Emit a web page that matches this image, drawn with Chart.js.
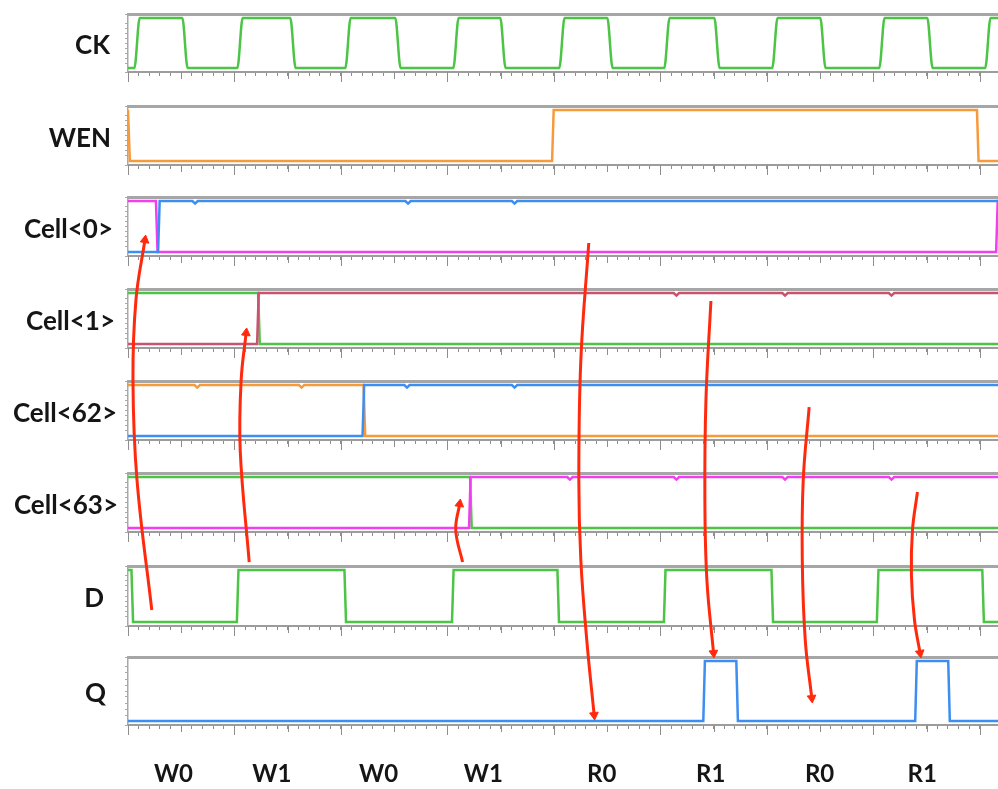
<!DOCTYPE html>
<html>
<head>
<meta charset="utf-8">
<script src="https://cdn.jsdelivr.net/npm/chart.js@4.4.1/dist/chart.umd.min.js"></script>
<style>
  html, body { margin: 0; padding: 0; background: #fff; }
  #wrap { position: relative; width: 998px; height: 789px; overflow: hidden; }
  .lbl { position: absolute; font: bold 26px Lato, 'Open Sans', sans-serif; color: #151515;
         white-space: nowrap; transform: translateY(-50%); line-height: 1; }
  .op  { position: absolute; font: bold 24px Lato, 'Open Sans', sans-serif; color: #151515;
         white-space: nowrap; transform: translate(-50%, -50%); line-height: 1; }
  canvas { position: absolute; left: 0; }
</style>
</head>
<body>
<div id="wrap"></div>
<script>
// ── Data (time in clock-period units, levels 0/1) ─────────
const xMax = 8.17;

const rowLabels  = ['CK', 'WEN', 'Cell<0>', 'Cell<1>', 'Cell<62>', 'Cell<63>', 'D', 'Q'];
const opLabels   = ['W0', 'W1', 'W0', 'W1', 'R0', 'R1', 'R0', 'R1'];
const opLabelPos = [0.43, 1.36, 2.37, 3.36, 4.48, 5.51, 6.54, 7.51];

const ckEdges  = [0.085, 0.535, 1.052, 1.549, 2.066, 2.535, 3.080, 3.521, 4.075,
                  4.526, 5.061, 5.531, 6.075, 6.526, 7.080, 7.531, 8.075];
const wenEdges = [0.01, 3.99, 7.98];

const cell0MagentaEdges = [0.27, 8.16];
const cell0BlueEdges    = [0.29];
const cell0BlueGlitches = [0.63, 2.63, 3.63];

const cell1GreenEdges    = [1.23];
const cell1RoseEdges     = [1.22];
const cell1RoseGlitches  = [5.15, 6.17, 7.17];

const cell62OrangeEdges    = [2.22];
const cell62OrangeGlitches = [0.65, 1.63];
const cell62BlueEdges      = [2.21];
const cell62BlueGlitches   = [2.62, 3.63];

const cell63GreenEdges      = [3.22];
const cell63MagentaEdges    = [3.21];
const cell63MagentaGlitches = [4.15, 5.15, 6.17, 7.17];

const dEdges = [0.04, 1.03, 2.04, 3.05, 4.04, 5.04, 6.05, 7.04, 8.03];
const qEdges = [5.41, 5.72, 7.40, 7.71];

// arrows: [time, row position] (row 0 = top of CK panel, 1 row = one panel pitch)
const arrowW0  = [[0.225, 6.478], [0.085, 5.065], [0.047, 3.978], [0.075, 3.109], [0.160, 2.457]];
const arrowW1a = [[1.146, 5.957], [1.061, 4.739], [1.070, 3.978], [1.117, 3.467]];
const arrowW1b = [[3.164, 5.957], [3.099, 5.609], [3.136, 5.326]];
const arrowR0a = [[4.357, 2.489], [4.282, 3.761], [4.263, 5.065], [4.282, 5.935], [4.338, 6.804], [4.408, 7.620]];
const arrowR1a = [[5.512, 3.120], [5.465, 4.196], [5.455, 5.283], [5.474, 6.152], [5.537, 6.946]];
const arrowR0b = [[6.441, 4.272], [6.385, 5.065], [6.376, 5.935], [6.404, 6.804], [6.466, 7.435]];
const arrowR1b = [[7.465, 5.196], [7.418, 5.609], [7.408, 6.098], [7.437, 6.587], [7.490, 6.946]];

// ── Colours ───────────────────────────────────────────────
const COLORS = {
  green:   '#4cc445',
  orange:  '#f79a3c',
  blue:    '#3d8ef2',
  magenta: '#f23ef0',
  rose:    '#c9526f',
  red:     '#ff2a0e',
  frame:   '#a6a6a6',
  tick:    '#8e8e8e',
};

// ── Layout ────────────────────────────────────────────────
const panelTop    = [14, 106, 197, 289, 381, 473, 566, 657];
const panelHeight = [58, 59, 59, 59, 59, 59, 60, 68];
const labelRight  = [110, 111, 113, 115, 117, 118, 104, 106];
const rowPitch    = 92;
const opLabelY    = 773;

const rows = [
  [{ color: COLORS.green,   start: 0, edges: ckEdges, smooth: true }],
  [{ color: COLORS.orange,  start: 1, edges: wenEdges }],
  [{ color: COLORS.blue,    start: 0, edges: cell0BlueEdges, glitches: cell0BlueGlitches },
   { color: COLORS.magenta, start: 1, edges: cell0MagentaEdges }],
  [{ color: COLORS.rose,    start: 0, edges: cell1RoseEdges, glitches: cell1RoseGlitches },
   { color: COLORS.green,   start: 1, edges: cell1GreenEdges }],
  [{ color: COLORS.blue,    start: 0, edges: cell62BlueEdges, glitches: cell62BlueGlitches },
   { color: COLORS.orange,  start: 1, edges: cell62OrangeEdges, glitches: cell62OrangeGlitches }],
  [{ color: COLORS.magenta, start: 0, edges: cell63MagentaEdges, glitches: cell63MagentaGlitches },
   { color: COLORS.green,   start: 1, edges: cell63GreenEdges }],
  [{ color: COLORS.green,   start: 1, edges: dEdges }],
  [{ color: COLORS.blue,    start: 0, edges: qEdges }],
];

const arrows = [arrowW0, arrowW1a, arrowW1b, arrowR0a, arrowR1a, arrowR0b, arrowR1b];

// ── Helpers ───────────────────────────────────────────────
// step waveform from edge times (level toggles at each edge)
function stepPoints(start, edges, ramp, glitches) {
  const events = edges.map(t => ({ t, edge: true }))
    .concat((glitches || []).map(t => ({ t, edge: false })))
    .sort((a, b) => a.t - b.t);
  const pts = [{ x: 0, y: start }];
  let level = start;
  events.forEach(e => {
    if (e.edge) {
      pts.push({ x: Math.max(0, e.t - ramp / 2), y: level });
      level = 1 - level;
      pts.push({ x: e.t + ramp / 2, y: level });
    } else {
      const d = level ? -0.05 : 0.05;
      pts.push({ x: e.t - 0.025, y: level }, { x: e.t, y: level + d }, { x: e.t + 0.025, y: level });
    }
  });
  pts.push({ x: xMax + 0.1, y: level });
  return pts;
}

// longer tick marks on whole and half periods
const majorTicks = {
  id: 'majorTicks',
  afterDraw(chart) {
    const { ctx, chartArea, scales: { x } } = chart;
    ctx.save();
    ctx.strokeStyle = COLORS.tick;
    ctx.lineWidth = 1;
    for (let i = 0; i <= Math.floor(xMax * 2); i++) {
      const len = i % 2 === 0 ? 10 : 7;
      const px = Math.round(x.getPixelForValue(i / 2)) + 0.5;
      ctx.beginPath();
      ctx.moveTo(px, chartArea.bottom);
      ctx.lineTo(px, chartArea.bottom + len);
      ctx.stroke();
    }
    ctx.restore();
  }
};

const wrap = document.getElementById('wrap');

// ── Signal panels ─────────────────────────────────────────
rows.forEach((traces, i) => {
  const top = panelTop[i], h = panelHeight[i];
  const padTop = 6, padBottom = 12, tickLen = 4;
  const canvas = document.createElement('canvas');
  canvas.width = 998;
  canvas.height = padTop + h + tickLen + padBottom;
  canvas.style.top = (top - padTop) + 'px';
  wrap.appendChild(canvas);

  const m = 4 / (h - 8);
  new Chart(canvas, {
    type: 'line',
    data: {
      datasets: traces.map(tr => ({
        data: stepPoints(tr.start, tr.edges, tr.smooth ? 0.05 : 0.015, tr.glitches),
        borderColor: tr.color,
        borderWidth: 2.5,
        pointRadius: 0,
        tension: tr.smooth ? 0.4 : 0,
        cubicInterpolationMode: tr.smooth ? 'monotone' : 'default',
        fill: false,
      }))
    },
    options: {
      responsive: false,
      animation: false,
      events: [],
      layout: { padding: { left: 125, right: 0, top: padTop, bottom: padBottom } },
      plugins: { legend: { display: false }, tooltip: { enabled: false } },
      scales: {
        x: {
          type: 'linear', min: 0, max: xMax,
          grid: { drawOnChartArea: false, tickLength: tickLen, color: COLORS.tick },
          border: { color: '#9c9c9c', width: 2 },
          ticks: { display: false, stepSize: 0.1, autoSkip: false },
        },
        xTop: {
          type: 'linear', position: 'top', min: 0, max: xMax,
          grid: { drawOnChartArea: false, drawTicks: false },
          border: { color: COLORS.frame, width: 3 },
          ticks: { display: false },
        },
        y: {
          min: -m, max: 1 + m,
          grid: { drawOnChartArea: false, tickLength: 3, color: '#a8a8a8' },
          border: { color: '#a8a8a8', width: 1.5 },
          ticks: { display: false, stepSize: 0.1, autoSkip: false },
        }
      }
    },
    plugins: [majorTicks]
  });

  const lbl = document.createElement('div');
  lbl.className = 'lbl';
  lbl.textContent = rowLabels[i];
  lbl.style.right = (998 - labelRight[i]) + 'px';
  lbl.style.top = (top + h / 2 + 1) + 'px';
  wrap.appendChild(lbl);
});

// ── Arrow overlay ─────────────────────────────────────────
const overlay = document.createElement('canvas');
overlay.width = 998;
overlay.height = 789;
overlay.style.top = '0px';
wrap.appendChild(overlay);

function headRotation(ctx) {
  const pts = ctx.dataset.data;
  const n = pts.length - 1;
  const { x, y } = ctx.chart.scales;
  const dx = x.getPixelForValue(pts[n].x) - x.getPixelForValue(pts[n - 1].x);
  const dy = y.getPixelForValue(pts[n].y) - y.getPixelForValue(pts[n - 1].y);
  return Math.atan2(dx, -dy) * 180 / Math.PI;
}

const rowsTop = panelTop[0];
const rowsBottom = rowsTop + 8 * rowPitch;

const overlayChart = new Chart(overlay, {
  type: 'line',
  data: {
    datasets: arrows.map(a => ({
      data: a.map(p => ({ x: p[0], y: p[1] })),
      borderColor: COLORS.red,
      backgroundColor: COLORS.red,
      borderWidth: 3,
      tension: 0.4,
      fill: false,
      pointStyle: 'triangle',
      pointRadius: ctx => (ctx.dataIndex === ctx.dataset.data.length - 1 ? 5 : 0),
      pointBorderWidth: 1,
      pointRotation: ctx => (ctx.dataIndex === ctx.dataset.data.length - 1 ? headRotation(ctx) : 0),
    }))
  },
  options: {
    responsive: false,
    animation: false,
    events: [],
    layout: { padding: { left: 128, right: 0, top: rowsTop, bottom: 789 - rowsBottom } },
    plugins: { legend: { display: false }, tooltip: { enabled: false } },
    scales: {
      x: { type: 'linear', display: false, min: 0, max: xMax },
      y: { type: 'linear', display: false, reverse: true, min: 0, max: 8 }
    }
  }
});

// operation labels under the last panel, placed on the shared time scale
opLabels.forEach((txt, i) => {
  const el = document.createElement('div');
  el.className = 'op';
  el.textContent = txt;
  el.style.left = overlayChart.scales.x.getPixelForValue(opLabelPos[i]) + 'px';
  el.style.top = opLabelY + 'px';
  wrap.appendChild(el);
});
</script>
</body>
</html>
